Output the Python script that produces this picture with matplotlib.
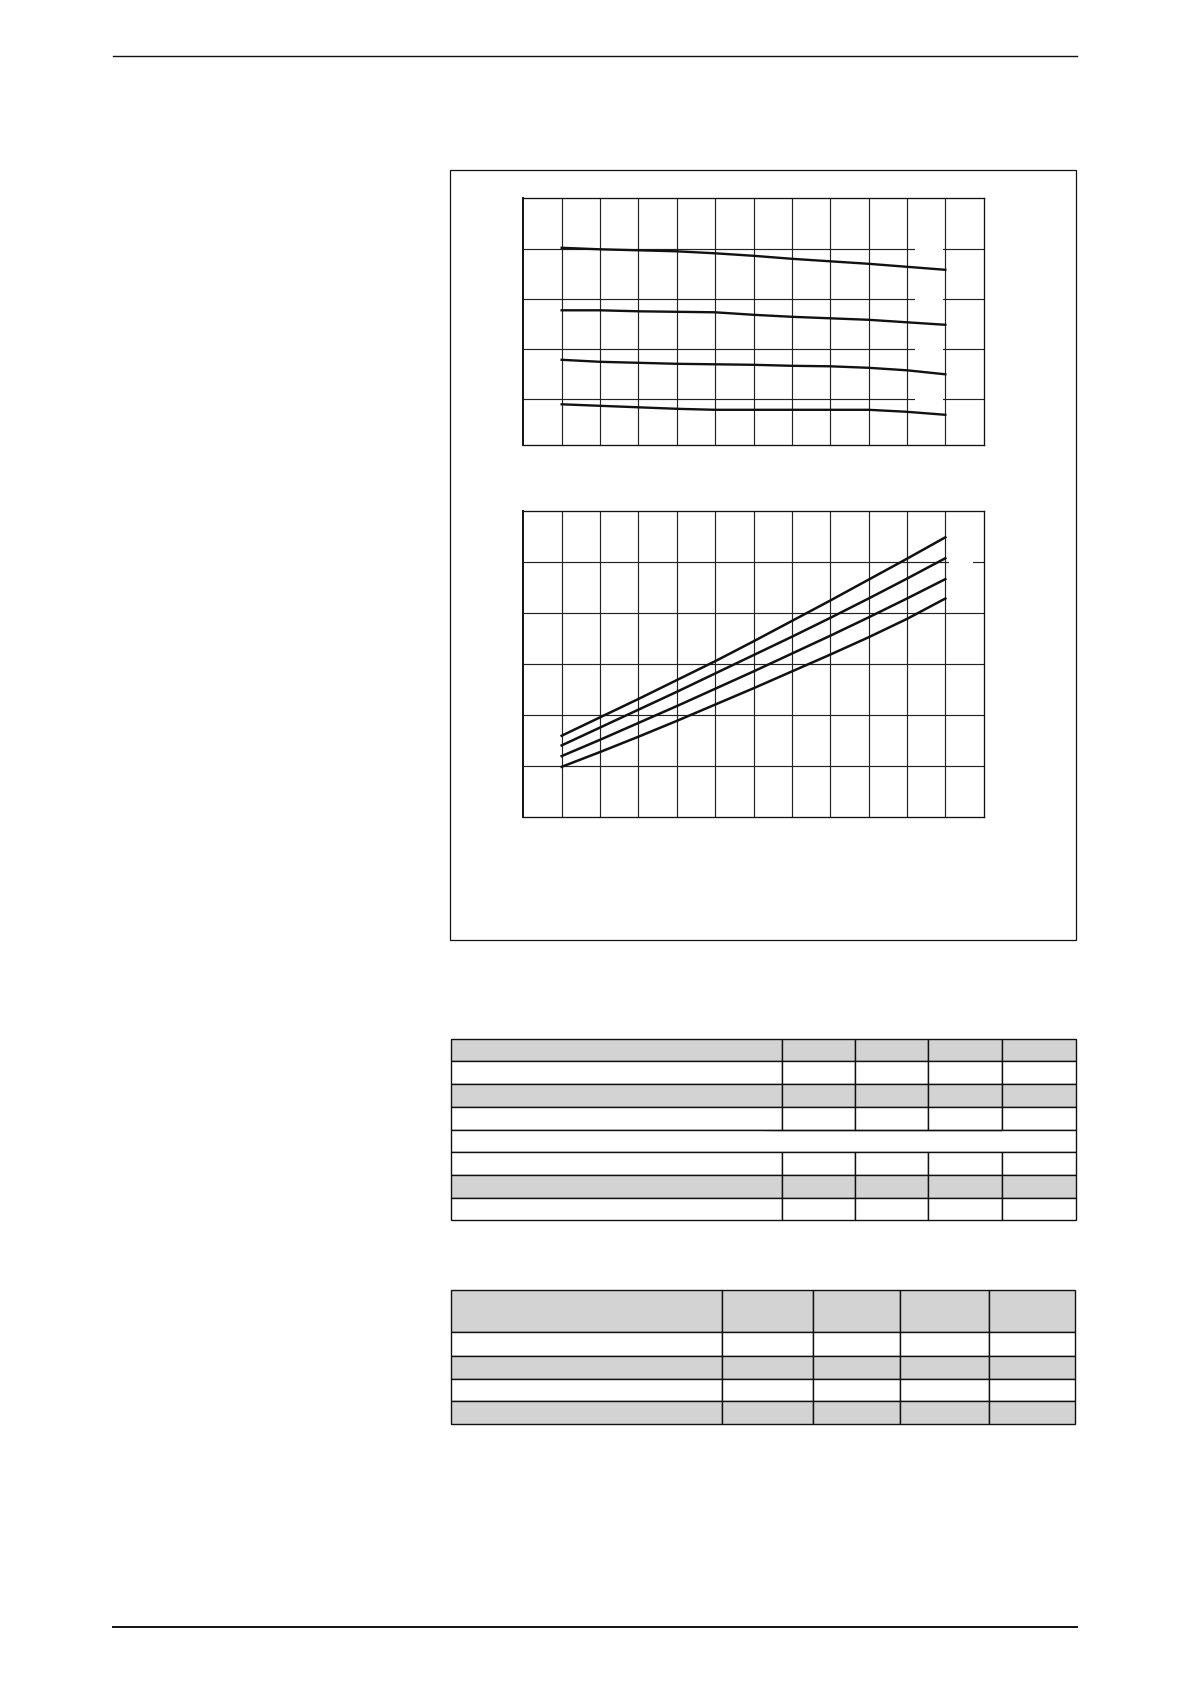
import matplotlib
matplotlib.use('Agg')
import matplotlib.pyplot as plt
import matplotlib.patches as mpatches

plt.rcParams['font.family'] = 'DejaVu Sans'

W, H = 1190, 1684
GRAY = '#d3d3d3'
INK = '#111111'

# ---- data ----
x_pts = [1, 2, 3, 4, 5, 6, 7, 8, 9, 10, 11]

top_c1 = [4.03, 4.00, 3.98, 3.96, 3.92, 3.87, 3.81, 3.76, 3.71, 3.65, 3.59]
top_c2 = [2.78, 2.78, 2.76, 2.75, 2.74, 2.69, 2.65, 2.62, 2.59, 2.54, 2.49]
top_c3 = [1.79, 1.75, 1.73, 1.71, 1.70, 1.69, 1.67, 1.66, 1.63, 1.58, 1.50]
top_c4 = [0.90, 0.87, 0.84, 0.81, 0.79, 0.79, 0.79, 0.79, 0.79, 0.75, 0.69]

bot_c1 = [1.60, 1.96, 2.32, 2.69, 3.06, 3.45, 3.85, 4.25, 4.66, 5.07, 5.49]
bot_c2 = [1.41, 1.76, 2.11, 2.46, 2.82, 3.18, 3.54, 3.91, 4.29, 4.68, 5.08]
bot_c3 = [1.20, 1.52, 1.85, 2.18, 2.52, 2.86, 3.21, 3.56, 3.92, 4.29, 4.67]
bot_c4 = [0.99, 1.28, 1.58, 1.89, 2.21, 2.53, 2.86, 3.19, 3.53, 3.89, 4.29]

x_grid = [1, 2, 3, 4, 5, 6, 7, 8, 9, 10, 11]
top_y_grid = [1, 2, 3, 4]
bot_y_grid = [1, 2, 3, 4, 5]

# tables (text blanked out in the source page)
t1_text = [[''] * 5 for _ in range(8)]
t2_text = [[''] * 5 for _ in range(5)]


def px_axes(fig, x0, y0, x1, y1, **kw):
    # axes placed by page pixel box (top-left origin)
    return fig.add_axes([x0 / W, 1 - y1 / H, (x1 - x0) / W, (y1 - y0) / H], **kw)


fig = plt.figure(figsize=(W / 100, H / 100), dpi=100)
fig.patch.set_facecolor('white')

# page furniture
page = fig.add_axes([0, 0, 1, 1], zorder=-5)
page.set_xlim(0, W)
page.set_ylim(H, 0)
page.axis('off')
page.plot([113, 1077], [56, 56], color=INK, lw=1.0)
page.plot([113, 1077], [1627, 1627], color=INK, lw=1.4)
page.add_patch(mpatches.Rectangle((450.3, 170.3), 626, 769.7, fill=False,
                                  edgecolor=INK, lw=0.9))


def style_chart(ax, ylim, ygrid):
    ax.set_xlim(0, 12)
    ax.set_ylim(*ylim)
    ax.set_xticks(x_grid)
    ax.set_yticks(ygrid)
    ax.tick_params(length=0, labelleft=False, labelbottom=False)
    ax.set_axisbelow(True)
    ax.grid(True, color='#222222', lw=0.85)
    for s in ax.spines.values():
        s.set_linewidth(0.95)
        s.set_color(INK)
    ax.spines['left'].set_linewidth(1.4)


# ---- upper chart ----
ax1 = px_axes(fig, 523.3, 198.3, 983.7, 445.3)
style_chart(ax1, (0.08, 5.02), top_y_grid)
for yg in top_y_grid:
    ax1.add_patch(mpatches.Rectangle((10.21, yg - 0.06), 0.74, 0.12,
                                     facecolor='white', edgecolor='none', zorder=1))
for c in (top_c1, top_c2, top_c3, top_c4):
    ax1.plot(x_pts, c, color=INK, lw=1.7, zorder=3)

# ---- lower chart ----
ax2 = px_axes(fig, 523.3, 511.3, 983.7, 817.3)
style_chart(ax2, (0, 6), bot_y_grid)
ax2.add_patch(mpatches.Rectangle((11.1, 4.94), 0.61, 0.12,
                                 facecolor='white', edgecolor='none', zorder=1))
for c in (bot_c1, bot_c2, bot_c3, bot_c4):
    ax2.plot(x_pts, c, color=INK, lw=1.8, zorder=3)


# ---- tables ----
def draw_table(box, text, col_w, row_h, gray_rows, merged_rows=()):
    ax = px_axes(fig, *box)
    ax.axis('off')
    colours = [[GRAY if r in gray_rows else 'white'] * len(col_w) for r in range(len(text))]
    tb = ax.table(cellText=text, cellColours=colours, colWidths=col_w,
                  bbox=[0, 0, 1, 1])
    ncol = len(col_w)
    for (r, c), cell in tb.get_celld().items():
        cell.set_height(row_h[r])
        cell.set_linewidth(1.0)
        cell.set_edgecolor(INK)
        if r in merged_rows:
            if c == 0:
                cell.visible_edges = 'BTL'
            elif c == ncol - 1:
                cell.visible_edges = 'BTR'
            else:
                cell.visible_edges = 'BT'
    return tb


draw_table((450.7, 1038.7, 1076.3, 1220.3), t1_text,
           [331, 73.6, 73, 74, 74],
           [22.6, 23, 23, 22.7, 22.3, 23, 23, 22],
           gray_rows={0, 2, 6}, merged_rows={4})

draw_table((450.7, 1290.3, 1075.3, 1424), t2_text,
           [271.6, 91, 87, 88.4, 86.6],
           [42, 23.7, 23.3, 21.7, 23],
           gray_rows={0, 2, 4})

plt.savefig('out.png', dpi=100, facecolor='white')
plt.close()
